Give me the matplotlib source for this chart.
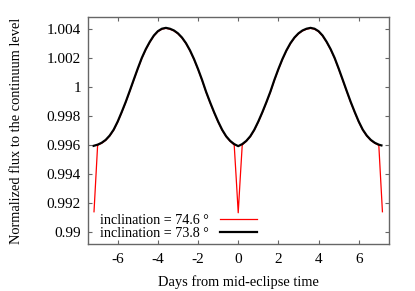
import numpy as np
import matplotlib.pyplot as plt

plt.rcParams['font.family'] = ['Liberation Serif', 'DejaVu Serif']

# light curve, inclination = 73.8 deg (black)
days_73 = [-7.2, -7.0, -6.8, -6.6, -6.4, -6.2, -6.0, -5.8, -5.6, -5.4, -5.2, -5.0,
           -4.8, -4.6, -4.4, -4.2, -4.0, -3.8, -3.6, -3.4, -3.2, -3.0, -2.8, -2.6,
           -2.4, -2.2, -2.0, -1.8, -1.6, -1.4, -1.2, -1.0, -0.8, -0.6, -0.4, -0.2,
           0.0, 0.2, 0.4, 0.6, 0.8, 1.0, 1.2, 1.4, 1.6, 1.8, 2.0, 2.2, 2.4, 2.6,
           2.8, 3.0, 3.2, 3.4, 3.6, 3.8, 4.0, 4.2, 4.4, 4.6, 4.8, 5.0, 5.2, 5.4,
           5.6, 5.8, 6.0, 6.2, 6.4, 6.6, 6.8, 7.0, 7.13]
flux_73 = [0.99594, 0.99602, 0.99615, 0.99635, 0.99665, 0.99706, 0.99762, 0.99828,
           0.99898, 0.99974, 1.00052, 1.00129, 1.00202, 1.00263, 1.00314, 1.00357,
           1.00387, 1.00404, 1.00410, 1.00404, 1.00392, 1.00372, 1.00343, 1.00304,
           1.00254, 1.00194, 1.00125, 1.00050, 0.99968, 0.99895, 0.99826, 0.99762,
           0.99705, 0.99660, 0.99628, 0.99606, 0.99592, 0.99606, 0.99628, 0.99660,
           0.99705, 0.99762, 0.99826, 0.99895, 0.99968, 1.00050, 1.00125, 1.00194,
           1.00254, 1.00304, 1.00343, 1.00372, 1.00392, 1.00404, 1.00410, 1.00404,
           1.00387, 1.00357, 1.00314, 1.00263, 1.00202, 1.00129, 1.00052, 0.99974,
           0.99898, 0.99828, 0.99762, 0.99706, 0.99665, 0.99635, 0.99615, 0.99602,
           0.99597]

# light curve, inclination = 74.6 deg (red): eclipses at the ends and at 0
days_74 = [-7.18, -7.0, -6.8, -6.6, -6.4, -6.2, -6.0, -5.8, -5.6, -5.4, -5.2, -5.0,
           -4.8, -4.6, -4.4, -4.2, -4.0, -3.8, -3.6, -3.4, -3.2, -3.0, -2.8, -2.6,
           -2.4, -2.2, -2.0, -1.8, -1.6, -1.4, -1.2, -1.0, -0.8, -0.6, -0.4, -0.2,
           -0.1, 0.0, 0.1, 0.2, 0.4, 0.6, 0.8, 1.0, 1.2, 1.4, 1.6, 1.8, 2.0, 2.2,
           2.4, 2.6, 2.8, 3.0, 3.2, 3.4, 3.6, 3.8, 4.0, 4.2, 4.4, 4.6, 4.8, 5.0,
           5.2, 5.4, 5.6, 5.8, 6.0, 6.2, 6.4, 6.6, 6.8, 7.0, 7.18]
flux_74 = [0.99138, 0.99598, 0.99612, 0.99632, 0.99662, 0.99703, 0.99759, 0.99825,
           0.99895, 0.99971, 1.00049, 1.00126, 1.00199, 1.00260, 1.00311, 1.00354,
           1.00384, 1.00401, 1.00407, 1.00401, 1.00389, 1.00369, 1.00340, 1.00301,
           1.00251, 1.00191, 1.00122, 1.00047, 0.99965, 0.99892, 0.99823, 0.99759,
           0.99702, 0.99657, 0.99625, 0.99600, 0.99370, 0.99131, 0.99370, 0.99600,
           0.99625, 0.99657, 0.99702, 0.99759, 0.99823, 0.99892, 0.99965, 1.00047,
           1.00122, 1.00191, 1.00251, 1.00301, 1.00340, 1.00369, 1.00389, 1.00401,
           1.00407, 1.00401, 1.00384, 1.00354, 1.00311, 1.00260, 1.00199, 1.00126,
           1.00049, 0.99971, 0.99895, 0.99825, 0.99759, 0.99703, 0.99662, 0.99632,
           0.99612, 0.99598, 0.99138]

xticks = [-6, -4, -2, 0, 2, 4, 6]
yticks = [0.99, 0.992, 0.994, 0.996, 0.998, 1.0, 1.002, 1.004]
ytick_labels = ['0.99', '0.992', '0.994', '0.996', '0.998', '1', '1.002', '1.004']

fig = plt.figure(figsize=(4.15, 2.91), dpi=100)
ax = fig.add_axes([0.212, 0.1605, 0.725, 0.782])

ax.plot(days_74, flux_74, color='red', lw=0.9, label='inclination = 74.6 °')
ax.plot(days_73, flux_73, color='black', lw=1.6, label='inclination = 73.8 °')

ax.set_xlim(-7.48, 7.5)
ax.set_ylim(0.98913, 1.00487)
ax.set_xticks(xticks)
ax.set_xticklabels([str(t) for t in xticks])
ax.set_yticks(yticks)
ax.set_yticklabels(ytick_labels)
ax.tick_params(direction='in', length=3, width=0.8, color='0.4',
               top=True, right=True, labelsize=11)
ax.tick_params(axis='x', pad=6)
ax.tick_params(axis='y', pad=5)
for s in ax.spines.values():
    s.set_color('0.4')
    s.set_linewidth(1.0)

ax.set_xlabel('Days from mid-eclipse time', fontsize=10.4, labelpad=7)
ax.set_ylabel('Normalized flux to the continuum level', fontsize=10.4, labelpad=17)

ax.legend(loc='lower left', frameon=False, markerfirst=False, fontsize=10.2,
          handlelength=2.6, handletextpad=0.8, labelspacing=0.0,
          borderaxespad=0.1, bbox_to_anchor=(0.015, -0.014))

fig.savefig('out.png', dpi=100)
